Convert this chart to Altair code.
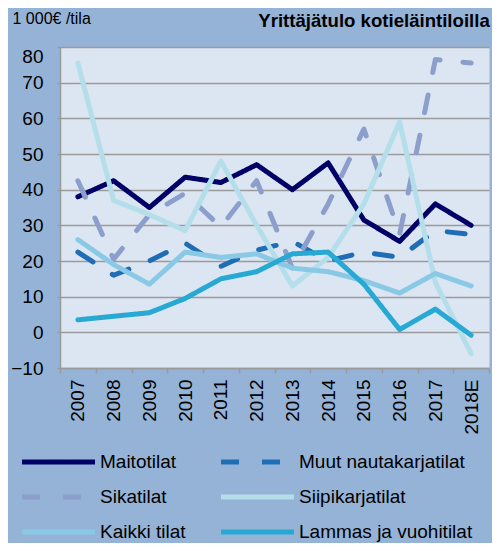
import altair as alt
import pandas as pd

FONT = "Liberation Sans"

years = ["2007", "2008", "2009", "2010", "2011", "2012", "2013", "2014", "2015", "2016", "2017", "2018E"]
maitotilat = [38, 42.5, 35, 43.5, 42, 47, 40, 47.5, 31.5, 25.5, 36, 30]
muut_nauta = [22.5, 16, 20, 25, 18.5, 23, 25.5, 20, 22.5, 21, 28.5, 27.5]
sikatilat = [42.5, 20.5, 33, 39, 29.5, 42.5, 18, 36, 57, 27.5, 76.5, 75.5]
siipikarja = [75.5, 37, 33, 28.5, 48, 30, 13, 21, 36, 59, 14, -6]
kaikki = [26, 19, 13.5, 22.5, 21, 22, 18, 17, 14.5, 11, 16.5, 13]
lammas = [3.5, 4.5, 5.5, 9.5, 15, 17, 22, 22.5, 13.5, 0.8, 6.5, -0.8]

series_names = ["Maitotilat", "Muut nautakarjatilat", "Sikatilat",
                "Siipikarjatilat", "Kaikki tilat", "Lammas ja vuohitilat"]
series_values = [maitotilat, muut_nauta, sikatilat, siipikarja, kaikki, lammas]
series_colors = ["#000066", "#1f6eb5", "#8c9fcc", "#b4deea", "#8ac9e5", "#27a9d4"]
series_dash = [[1, 0], [18, 23], [18, 23], [1, 0], [1, 0], [1, 0]]

y_ticks = [-10, 0, 10, 20, 30, 40, 50, 60, 70, 80]

rows = []
for name, vals in zip(series_names, series_values):
    for yr, v in zip(years, vals):
        rows.append({"Vuosi": yr, "Sarja": name, "Arvo": v})
df = pd.DataFrame(rows)

legend = alt.Legend(
    title=None, orient="none", direction="horizontal", legendX=-11.5, legendY=405,
    columns=2, columnPadding=24, rowPadding=15, symbolType="M-5,0H5", symbolSize=213,
    symbolStrokeWidth=5, labelOffset=31.5, labelFont=FONT, labelFontSize=19,
    labelColor="#000000", padding=0, labelLimit=0,
)

chart = alt.Chart(df).mark_line(strokeWidth=5, strokeCap="round", strokeJoin="round").encode(
    x=alt.X(
        "Vuosi:N", sort=years, bandPosition=0.5,
        scale=alt.Scale(type="band", paddingInner=0, paddingOuter=0),
        axis=alt.Axis(
            title=None, labelAngle=270, tickBand="extent", tickSize=5,
            tickColor="#9a9a9a", tickWidth=1.5, domainColor="#9a9a9a", domainWidth=1.5,
            labelFont=FONT, labelFontSize=19, labelColor="#000000", labelPadding=6,
            grid=False,
        ),
    ),
    y=alt.Y(
        "Arvo:Q",
        scale=alt.Scale(domain=[-10, 80], nice=False, zero=False),
        axis=alt.Axis(
            values=y_ticks, title="1 000€ /tila", titleAngle=0, titleX=-48, titleY=-24,
            titleAlign="left", titleBaseline="alphabetic", titleFont=FONT,
            titleFontSize=16, titleFontWeight="normal", titleColor="#000000",
            labelFont=FONT, labelFontSize=19, labelColor="#000000", labelPadding=14,
            labelBaseline={"condition": {"test": "datum.value == 80", "value": "top"}, "value": "middle"},
            tickSize=3, tickColor="#9a9a9a", tickWidth=1.5,
            domainColor="#9a9a9a", domainWidth=1.5,
            gridColor="#9a9a9a", gridWidth=1.5,
        ),
    ),
    color=alt.Color(
        "Sarja:N", sort=series_names,
        scale=alt.Scale(domain=series_names, range=series_colors), legend=legend,
    ),
    strokeDash=alt.StrokeDash(
        "Sarja:N", sort=series_names,
        scale=alt.Scale(domain=series_names, range=series_dash), legend=legend,
    ),
).properties(
    width=429, height=321,
    autosize=alt.AutoSizeParams(type="none"),
    padding={"left": 52, "top": 39, "right": 3, "bottom": 175},
    title=alt.TitleParams(
        "Yrittäjätulo kotieläintiloilla", anchor="end", font=FONT, fontSize=18.6,
        fontWeight="bold", color="#000000", baseline="alphabetic", offset=0, dy=36,
    ),
).configure(
    background="#95b3d7",
).configure_view(
    fill="#dce6f2", stroke="transparent",
)

chart.save("out.html", embed_options={"renderer": "svg", "actions": False})
